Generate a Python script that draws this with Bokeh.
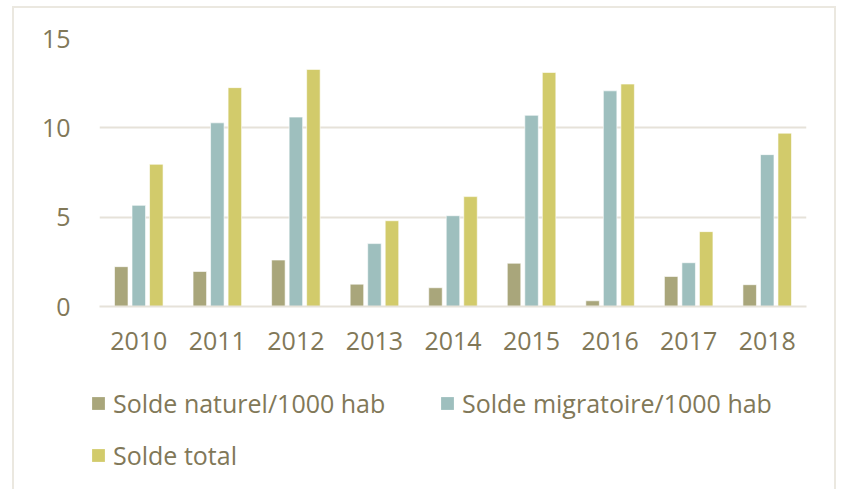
from bokeh.plotting import figure
from bokeh.models import FactorRange, ColumnDataSource, Legend, LegendItem, FixedTicker, Range1d
from bokeh.transform import dodge
from bokeh.embed import file_html
from bokeh.resources import INLINE

years = ["2010", "2011", "2012", "2013", "2014", "2015", "2016", "2017", "2018"]
solde_naturel = [2.23, 1.96, 2.6, 1.25, 1.05, 2.42, 0.32, 1.68, 1.22]
solde_migratoire = [5.66, 10.28, 10.6, 3.52, 5.08, 10.7, 12.07, 2.45, 8.5]
solde_total = [7.96, 12.25, 13.27, 4.8, 6.15, 13.1, 12.45, 4.19, 9.7]
series_names = ["Solde naturel/1000 hab", "Solde migratoire/1000 hab", "Solde total"]
y_ticks = [0, 5, 10, 15]

colors = ["#a9a67b", "#9ebfbe", "#d2cb6b"]
text_color = "#817858"
grid_color = "#e6e2d9"
border_css = "2px solid #ebe8e0"
FONT = "Open Sans"

src = ColumnDataSource(dict(year=years, nat=solde_naturel, mig=solde_migratoire, tot=solde_total))

# ---- main chart ----
p = figure(x_range=FactorRange(*years, range_padding=0), y_range=(0, 15),
           width=824, height=380, output_backend="svg", toolbar_location=None,
           min_border_left=85, min_border_right=32, min_border_top=30, min_border_bottom=82)
p.styles = {"border-top": border_css, "border-left": border_css, "border-right": border_css,
            "box-sizing": "border-box", "margin": "6px 0px 0px 12px"}
p.outline_line_color = None

offsets = [-0.223, 0.0, 0.223]
fields = ["nat", "mig", "tot"]
for f, off, c in zip(fields, offsets, colors):
    p.vbar(x=dodge("year", off, range=p.x_range), top=f, width=0.172, source=src,
           fill_color=c, line_color="white", line_width=0.6)

p.xgrid.grid_line_color = None
p.ygrid.grid_line_color = grid_color
p.ygrid.grid_line_width = 2
p.ygrid.level = "underlay"
p.yaxis.ticker = FixedTicker(ticks=y_ticks)

for ax in (p.xaxis, p.yaxis):
    ax.axis_line_color = None
    ax.major_tick_line_color = None
    ax.minor_tick_line_color = None
    ax.major_label_text_color = text_color
    ax.major_label_text_font = FONT
    ax.major_label_text_font_size = "25px"

p.xaxis.axis_line_color = grid_color
p.xaxis.axis_line_width = 2
p.xaxis.major_label_standoff = 19
p.yaxis.major_label_standoff = 23

# ---- legend strip (same data, bars kept outside its visible range) ----
q = figure(x_range=FactorRange(*years, range_padding=0), y_range=Range1d(100, 200),
           width=824, height=103, output_backend="svg", toolbar_location=None,
           x_axis_type=None, y_axis_type=None,
           min_border_left=0, min_border_right=0, min_border_top=0, min_border_bottom=0)
q.styles = {"border-left": border_css, "border-right": border_css,
            "box-sizing": "border-box", "margin": "0px 0px 0px 12px"}
q.outline_line_color = None
q.xgrid.visible = False
q.ygrid.visible = False

items = []
for f, off, c, name in zip(fields, offsets, colors, series_names):
    r = q.vbar(x=dodge("year", off, range=q.x_range), top=f, width=0.172, source=src,
               fill_color=c, line_color=None)
    items.append(LegendItem(label=name, renderers=[r]))

legend = Legend(items=items, location=(76, 17), ncols=2, orientation="horizontal")
legend.border_line_color = None
legend.background_fill_alpha = 0
legend.padding = 0
legend.margin = 0
legend.spacing = 18
legend.glyph_width = 16
legend.glyph_height = 16
legend.label_standoff = 7
legend.label_width = 308
legend.label_height = 24
legend.label_text_font = FONT
legend.label_text_font_size = "25px"
legend.label_text_color = text_color
q.add_layout(legend, "center")

open("out.html", "w").write(file_html([p, q], INLINE))
